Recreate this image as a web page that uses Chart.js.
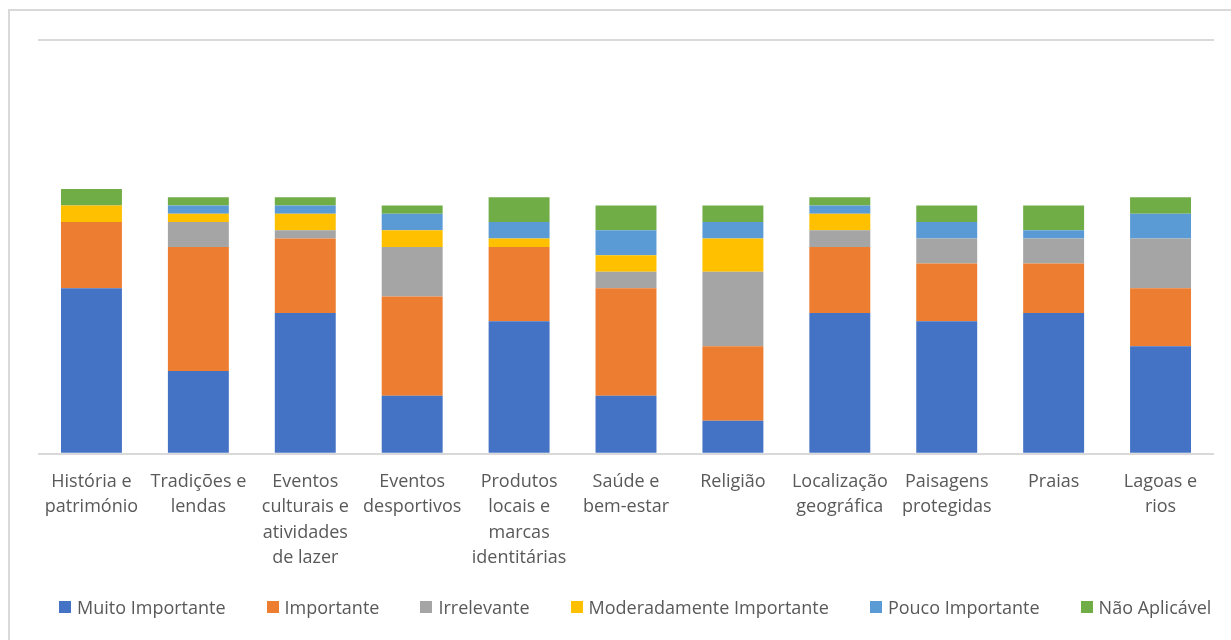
<!DOCTYPE html>
<html lang="pt">
<head>
<meta charset="utf-8">
<title>Importância dos fatores de atração</title>
<script src="https://cdn.jsdelivr.net/npm/chart.js@4.4.1/dist/chart.umd.min.js"></script>
<style>
  html, body { margin: 0; padding: 0; background: #ffffff; }
  #wrap { position: relative; width: 1231px; height: 640px; overflow: hidden; }
  #frame {
    position: absolute; left: 8px; top: 9px; width: 1400px; height: 800px;
    border-left: 2px solid #d9d9d9; border-top: 2px solid #d9d9d9;
  }
  #chart { position: absolute; left: 0; top: 0; }
  #legend {
    position: absolute; left: 59px; top: 594px; height: 26px;
    display: flex; align-items: center; gap: 41px;
    font-family: 'Open Sans', 'DejaVu Sans', sans-serif; font-size: 18px;
    color: #595959; white-space: nowrap;
  }
  #legend .item { display: flex; align-items: center; }
  #legend .box { width: 12px; height: 12px; margin-right: 6px; }
</style>
</head>
<body>
<div id="wrap">
  <div id="frame"></div>
  <canvas id="chart" width="1231" height="640"></canvas>
  <div id="legend"></div>
</div>
<script>
// Categories (multi-line axis labels)
const categories = [
  ['História e', 'património'],
  ['Tradições e', 'lendas'],
  ['Eventos', 'culturais e', 'atividades', 'de lazer'],
  ['Eventos', 'desportivos'],
  ['Produtos', 'locais e', 'marcas', 'identitárias'],
  ['Saúde e', 'bem-estar'],
  ['Religião'],
  ['Localização', 'geográfica'],
  ['Paisagens', 'protegidas'],
  ['Praias'],
  ['Lagoas e', 'rios']
];

// Number of answers per level of importance
const muitoImportante   = [20, 10, 17, 7, 16, 7, 4, 17, 16, 17, 13];
const importante        = [8, 15, 9, 12, 9, 13, 9, 8, 7, 6, 7];
const irrelevante       = [0, 3, 1, 6, 0, 2, 9, 2, 3, 3, 6];
const moderadamente     = [2, 1, 2, 2, 1, 2, 4, 2, 0, 0, 0];
const poucoImportante   = [0, 1, 1, 2, 2, 3, 2, 1, 2, 1, 3];
const naoAplicavel      = [2, 1, 1, 1, 3, 3, 2, 1, 2, 3, 2];

// Value axis range
const axisMin = 0;
const axisMax = 50;

const seriesNames = ['Muito Importante', 'Importante', 'Irrelevante',
  'Moderadamente Importante', 'Pouco Importante', 'Não Aplicável'];
const seriesValues = [muitoImportante, importante, irrelevante,
  moderadamente, poucoImportante, naoAplicavel];
const seriesColors = ['#4472C4', '#ED7D31', '#A5A5A5', '#FFC000', '#5B9BD5', '#70AD47'];

const FONT = "'Open Sans', 'DejaVu Sans', sans-serif";
const TEXT = '#595959';

// Legend rendered as HTML from the chart's own legend items, on a single row
const htmlLegend = {
  id: 'htmlLegend',
  afterUpdate(chart) {
    const host = document.getElementById('legend');
    host.innerHTML = '';
    const items = Chart.defaults.plugins.legend.labels.generateLabels(chart);
    items.forEach(it => {
      const el = document.createElement('span');
      el.className = 'item';
      const box = document.createElement('span');
      box.className = 'box';
      box.style.background = it.fillStyle;
      const txt = document.createElement('span');
      txt.textContent = it.text;
      el.appendChild(box);
      el.appendChild(txt);
      host.appendChild(el);
    });
  }
};

new Chart(document.getElementById('chart'), {
  type: 'bar',
  data: {
    labels: categories,
    datasets: seriesNames.map((name, i) => ({
      label: name,
      data: seriesValues[i],
      backgroundColor: seriesColors[i],
      borderWidth: 0,
      barPercentage: 0.57,
      categoryPercentage: 1
    }))
  },
  options: {
    responsive: false,
    animation: false,
    layout: { padding: { left: 38, right: 17, top: 40, bottom: 54 } },
    scales: {
      x: {
        stacked: true,
        grid: { display: false, drawTicks: false },
        border: { display: false },
        ticks: {
          color: TEXT,
          font: { family: FONT, size: 18, lineHeight: 1.42 },
          padding: 15,
          maxRotation: 0,
          autoSkip: false
        }
      },
      y: {
        stacked: true,
        min: axisMin,
        max: axisMax,
        grid: { color: '#d9d9d9', lineWidth: 2, drawTicks: false },
        border: { display: false },
        ticks: { display: false, stepSize: 50 }
      }
    },
    plugins: {
      legend: { display: false },
      tooltip: { enabled: false }
    }
  },
  plugins: [htmlLegend]
});
</script>
</body>
</html>
